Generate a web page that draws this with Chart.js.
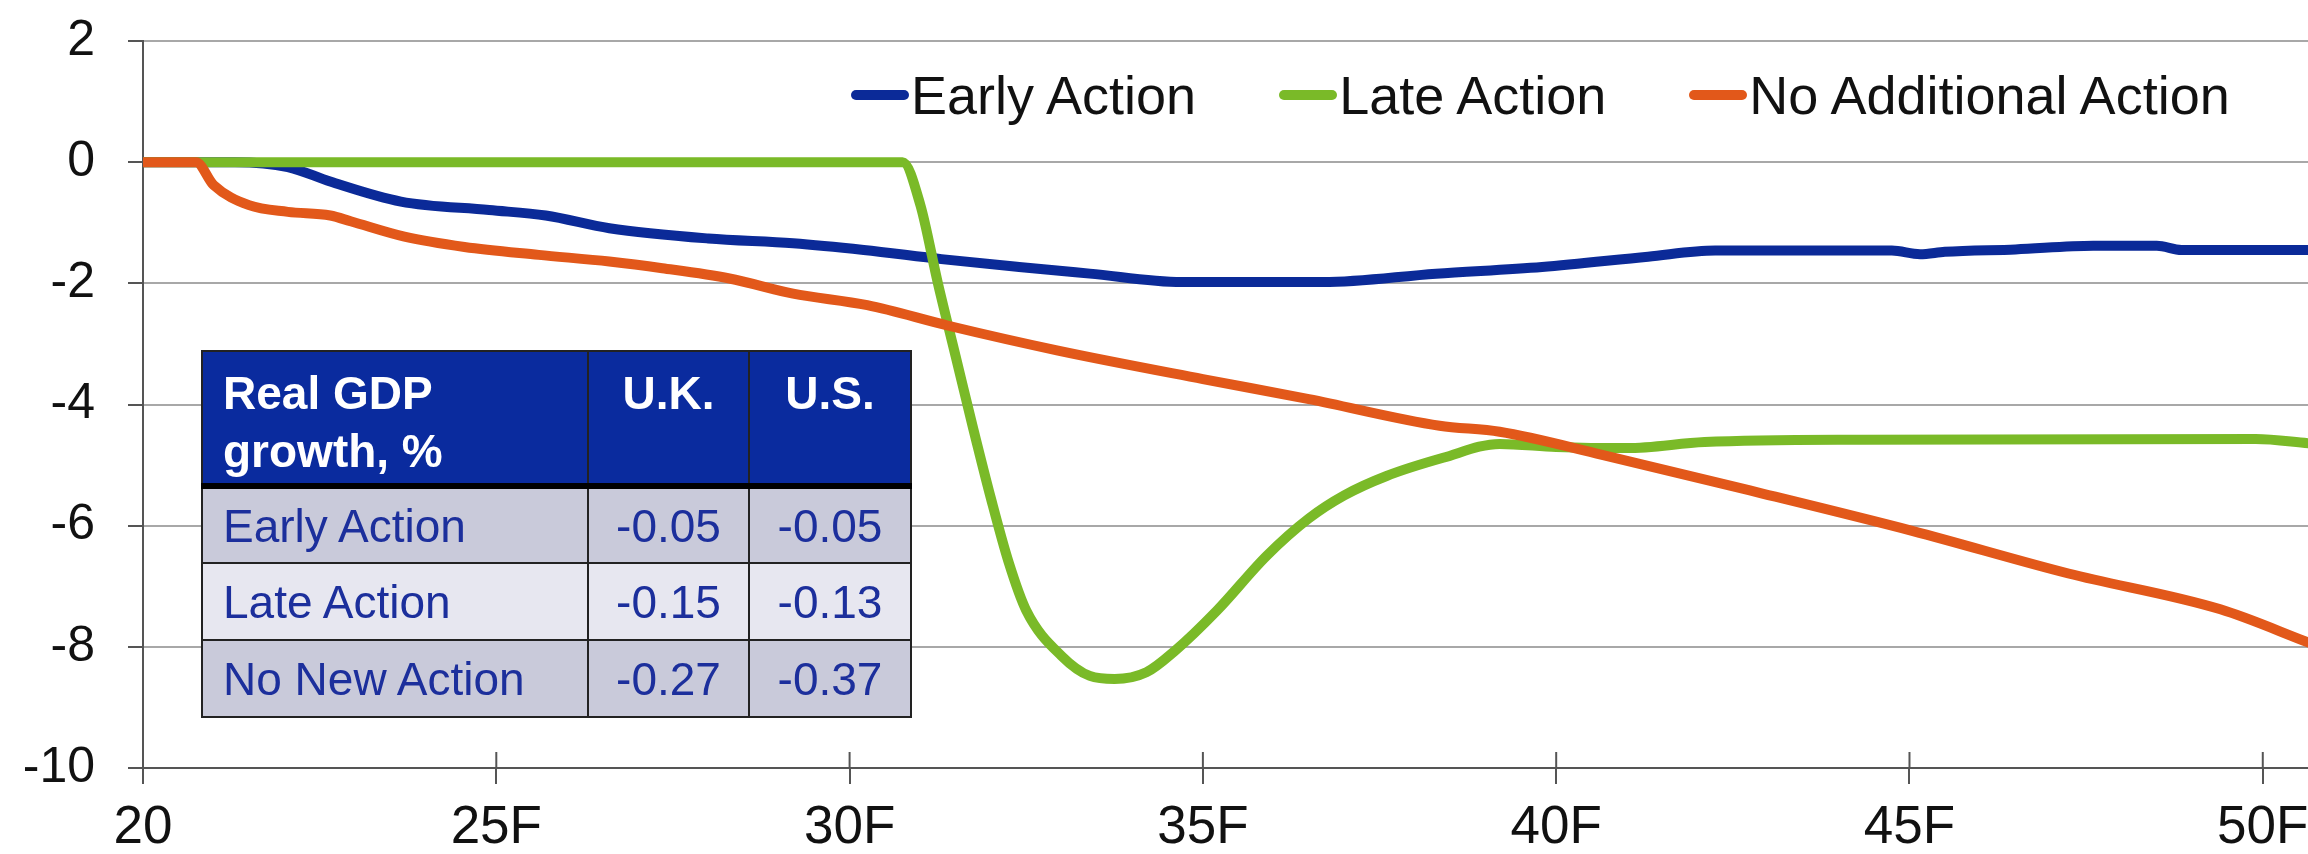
<!DOCTYPE html>
<html>
<head>
<meta charset="utf-8">
<title>Real GDP scenarios</title>
<script src="https://cdn.jsdelivr.net/npm/chart.js@4.4.1/dist/chart.umd.min.js"></script>
<style>
    html, body { margin: 0; padding: 0; background: #fff; }
    #wrap {
        position: relative;
        width: 2308px;
        height: 854px;
        overflow: hidden;
        font-family: 'Liberation Sans', Arial, sans-serif;
    }
    #legend {
        position: absolute;
        left: 851px;
        top: 64px;
        display: flex;
        align-items: center;
        white-space: nowrap;
    }
    .legend-item {
        display: flex;
        align-items: center;
        margin-right: 83px;
        font-size: 54px;
        color: #111;
    }
    .legend-item:last-child { margin-right: 0; }
    .legend-dash {
        display: inline-block;
        width: 58px;
        height: 10px;
        border-radius: 5px;
        margin-right: 2px;
    }
    #gdpTable {
        position: absolute;
        left: 201px;
        top: 350px;
        width: 709px;
        table-layout: fixed;
        border-collapse: collapse;
        font-size: 46px;
        white-space: nowrap;
    }
    #gdpTable th, #gdpTable td { border: 2px solid #222; }
    #gdpTable th {
        background: #0a2b9e;
        color: #fff;
        font-weight: bold;
        height: 135px;
        vertical-align: top;
        padding: 12px 0 0 0;
        line-height: 58px;
        border-bottom: 6px solid #000;
        box-sizing: border-box;
    }
    #gdpTable th.name { text-align: left; padding-left: 20px; }
    #gdpTable td {
        height: 77px;
        color: #1c2f9c;
        text-align: center;
        padding: 0;
        box-sizing: border-box;
    }
    #gdpTable td.name { text-align: left; padding-left: 20px; }
    #gdpTable tr.odd td { background: #c9cada; }
    #gdpTable tr.even td { background: #e7e7f0; }
</style>
</head>
<body>
<div id="wrap">
    <canvas id="gdpChart"></canvas>
    <div id="legend"></div>
    <table id="gdpTable">
        <colgroup><col style="width:386px"><col style="width:161px"><col style="width:162px"></colgroup>
        <thead>
            <tr><th class="name">Real GDP<br>growth, %</th><th>U.K.</th><th>U.S.</th></tr>
        </thead>
        <tbody></tbody>
    </table>
</div>
<script>
// Early Action
const earlyYears  = [20, 21.3, 22.05, 22.65, 23.65, 24.9, 25.7, 26.6, 28.0, 29.2, 30.2, 31.3, 32.4, 33.4, 34.7, 36.7, 38.3, 39.8, 41.3, 42.25, 44.75, 45.15, 45.5, 46.5, 47.6, 48.5, 48.85, 50.65];
const earlyValues = [0, 0, -0.08, -0.32, -0.65, -0.79, -0.88, -1.09, -1.26, -1.34, -1.45, -1.60, -1.73, -1.84, -1.98, -1.98, -1.84, -1.73, -1.56, -1.46, -1.46, -1.52, -1.48, -1.44, -1.38, -1.38, -1.45, -1.45];

// Late Action
const lateYears  = [20, 30.75, 31.0, 31.25, 31.5, 31.75, 32.0, 32.25, 32.5, 33.0, 33.4, 33.75, 34.2, 34.6, 35.2, 35.9, 36.5, 37.0, 37.6, 38.4, 39.2, 40.0, 41.0, 42.1, 44.3, 49.9, 50.65];
const lateValues = [0, 0, -0.7, -2.0, -3.2, -4.4, -5.55, -6.6, -7.4, -8.15, -8.48, -8.53, -8.42, -8.07, -7.4, -6.5, -5.88, -5.5, -5.18, -4.88, -4.65, -4.7, -4.72, -4.62, -4.58, -4.57, -4.64];

// No Additional Action
const noActionYears  = [20, 20.75, 21.0, 21.5, 22.05, 22.65, 22.95, 23.7, 24.55, 25.6, 26.6, 27.35, 28.3, 29.2, 30.25, 31.4, 32.95, 35.0, 36.5, 38.35, 39.2, 40.65, 42.85, 45.05, 47.25, 49.4, 50.65];
const noActionValues = [0, 0, -0.38, -0.71, -0.82, -0.88, -0.98, -1.23, -1.40, -1.53, -1.64, -1.75, -1.92, -2.17, -2.36, -2.70, -3.11, -3.58, -3.91, -4.35, -4.45, -4.83, -5.45, -6.09, -6.79, -7.38, -7.93];

// axes
const xTickValues = [20, 25, 30, 35, 40, 45, 50];
const xTickLabels = ['20', '25F', '30F', '35F', '40F', '45F', '50F'];
const yTickValues = [-10, -8, -6, -4, -2, 0, 2];

// inset table
const tableRows = ['Early Action', 'Late Action', 'No New Action'];
const ukGrowth = [-0.05, -0.15, -0.27];
const usGrowth = [-0.05, -0.13, -0.37];

const toPoints = (xs, ys) => xs.map((x, i) => ({ x: x, y: ys[i] }));

// x-axis tick marks also poke up into the plot
const innerTicks = {
    id: 'innerTicks',
    beforeDatasetsDraw(chart) {
        const { ctx, chartArea, scales: { x } } = chart;
        ctx.save();
        ctx.strokeStyle = '#555';
        ctx.lineWidth = 2;
        x.ticks.forEach(t => {
            const px = x.getPixelForValue(t.value);
            ctx.beginPath();
            ctx.moveTo(px, chartArea.bottom);
            ctx.lineTo(px, chartArea.bottom - 16);
            ctx.stroke();
        });
        ctx.restore();
    }
};

Chart.defaults.font.family = "'Liberation Sans', Arial, sans-serif";
Chart.defaults.color = '#111';

const chart = new Chart(document.getElementById('gdpChart'), {
    type: 'line',
    data: {
        datasets: [
            {
                label: 'Early Action',
                data: toPoints(earlyYears, earlyValues),
                borderColor: '#0b2a98',
                order: 2
            },
            {
                label: 'Late Action',
                data: toPoints(lateYears, lateValues),
                borderColor: '#7aba28',
                order: 1
            },
            {
                label: 'No Additional Action',
                data: toPoints(noActionYears, noActionValues),
                borderColor: '#e2581a',
                order: 0
            }
        ]
    },
    options: {
        responsive: true,
        maintainAspectRatio: false,
        animation: false,
        layout: { padding: { left: 23, top: 41, right: 0, bottom: 0 } },
        elements: {
            line: { borderWidth: 10, cubicInterpolationMode: 'monotone', borderCapStyle: 'round', borderJoinStyle: 'round' },
            point: { radius: 0, hoverRadius: 0 }
        },
        plugins: {
            legend: { display: false },
            tooltip: { enabled: false }
        },
        scales: {
            x: {
                type: 'linear',
                min: 20,
                max: 50.64,
                grid: { drawOnChartArea: false, tickLength: 16, tickColor: '#555', lineWidth: 2 },
                border: { color: '#555', width: 2 },
                afterBuildTicks: axis => { axis.ticks = xTickValues.map(v => ({ value: v })); },
                // fixed box so the plot lines up with the picture
                afterFit: axis => { axis.height = 86; axis.paddingLeft = 0; axis.paddingRight = 0; },
                ticks: {
                    font: { size: 53, lineHeight: 1 },
                    padding: 18,
                    maxRotation: 0,
                    callback: v => xTickLabels[xTickValues.indexOf(v)]
                }
            },
            y: {
                min: -10,
                max: 2,
                grid: { color: '#a8a8a8', lineWidth: 2, tickLength: 15, tickColor: '#555' },
                border: { color: '#555', width: 2 },
                afterBuildTicks: axis => { axis.ticks = yTickValues.map(v => ({ value: v })); },
                afterFit: axis => { axis.width = 120; axis.paddingTop = 0; axis.paddingBottom = 0; },
                ticks: {
                    font: { size: 50, lineHeight: 1 },
                    padding: 33,
                    callback: v => String(v)
                }
            }
        }
    },
    plugins: [innerTicks]
});

// legend in the plot, keeping dataset order
const legend = document.getElementById('legend');
chart.data.datasets.forEach(ds => {
    const item = document.createElement('div');
    item.className = 'legend-item';
    const dash = document.createElement('span');
    dash.className = 'legend-dash';
    dash.style.background = ds.borderColor;
    item.appendChild(dash);
    item.appendChild(document.createTextNode(ds.label));
    legend.appendChild(item);
});

// inset table rows
const tbody = document.querySelector('#gdpTable tbody');
tableRows.forEach((name, i) => {
    const tr = document.createElement('tr');
    tr.className = i % 2 === 0 ? 'odd' : 'even';
    tr.innerHTML = `<td class="name">${name}</td><td>${ukGrowth[i].toFixed(2)}</td><td>${usGrowth[i].toFixed(2)}</td>`;
    tbody.appendChild(tr);
});
</script>
</body>
</html>
